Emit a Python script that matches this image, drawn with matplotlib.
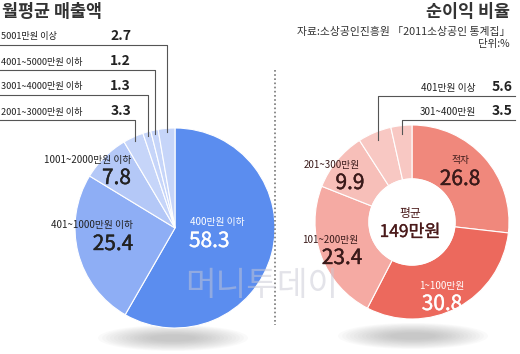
import matplotlib
matplotlib.use("Agg")
import numpy as np
import matplotlib.pyplot as plt
import matplotlib.patheffects as pe
from matplotlib.patches import Ellipse, Circle

plt.rcParams['font.family'] = ['Noto Sans CJK KR', 'DejaVu Sans']

# 월평균 매출액 (%)
sales_labels = ["400만원 이하", "401~1000만원 이하", "1001~2000만원 이하",
                "2001~3000만원 이하", "3001~4000만원 이하", "4001~5000만원 이하",
                "5001만원 이상"]
sales_values = [58.3, 25.4, 7.8, 3.3, 1.3, 1.2, 2.7]
sales_colors = ["#5b8def", "#8eaef5", "#b4c8f7", "#c6d5f9", "#c6d5f9", "#c6d5f9", "#c6d5f9"]

# 순이익 비율 (%)
profit_labels = ["적자", "1~100만원", "101~200만원", "201~300만원", "401만원 이상", "301~400만원"]
profit_values = [26.8, 30.8, 23.4, 9.9, 5.6, 3.5]
profit_colors = ["#f0887c", "#ec695d", "#f5aaa3", "#f7bfb9", "#f8c8c3", "#f8c8c3"]

W, H = 520, 354
fig = plt.figure(figsize=(W / 100, H / 100), dpi=100)
ax = fig.add_axes([0, 0, 1, 1])

def Y(py):
    # 위에서부터의 픽셀 좌표 -> 데이터 좌표
    return H - py

def mid_point(values, i, cx, cy, r):
    # 시계방향, 12시에서 시작
    start = sum(values[:i]) / sum(values) * 360
    mid = start + values[i] / sum(values) * 180
    a = np.deg2rad(90 - mid)
    return cx + r * np.cos(a), cy + r * np.sin(a)

# 그림자 (흐릿하게)
for cx, cy in [(173, 338), (413, 336)]:
    for k in range(14):
        ax.add_patch(Ellipse((cx, Y(cy)), 150 - k * 8, 26 - k * 1.5,
                             color="#8a8a8a", alpha=0.04, lw=0, zorder=1))

# 왼쪽 파이
lc, lr = (175, Y(228)), 100
ax.pie(sales_values, colors=sales_colors, startangle=90, counterclock=False,
       center=lc, radius=lr, frame=True,
       wedgeprops=dict(edgecolor="white", linewidth=0.8))

# 오른쪽 도넛
rc, rr = (412, Y(222)), 97
ax.pie(profit_values, colors=profit_colors, startangle=90, counterclock=False,
       center=rc, radius=rr, frame=True,
       wedgeprops=dict(edgecolor="white", linewidth=0.8, width=rr - 43))
ax.add_patch(Circle(rc, 43, color="white", zorder=3))

ax.set_xlim(0, W)
ax.set_ylim(0, H)
ax.set_aspect('auto')
ax.axis('off')

dark = "#222222"

def big(x, py, s, color, ha):
    # 중간 굵기 숫자: 보통 글꼴 + 얇은 테두리
    ax.text(x, Y(py), s, fontsize=15, color=color, ha=ha, va='center', zorder=5,
            path_effects=[pe.withStroke(linewidth=0.3, foreground=color)])

# 제목
ax.text(2, Y(12), "월평균 매출액", fontsize=12.5, fontweight='bold', color="#333333", va='center')
ax.text(510, Y(12), "순이익 비율", fontsize=12.5, fontweight='bold', color="#333333", va='center', ha='right')
ax.text(510, Y(32), "자료:소상공인진흥원 「2011소상공인 통계집」", fontsize=7.8, color="#333333",
        va='center', ha='right')
ax.text(510, Y(44), "단위:%", fontsize=7.5, color="#333333", va='center', ha='right')

# 왼쪽 작은 항목 지시선
rows = [(6, 37), (5, 62), (4, 87), (3, 112)]
for i, py in rows:
    ax.text(1, Y(py), sales_labels[i], fontsize=6.6, color=dark, va='center')
    ax.text(131, Y(py - 1), f"{sales_values[i]}", fontsize=10, fontweight='bold', color=dark,
            va='center', ha='right')
    x, y = mid_point(sales_values, i, lc[0], lc[1], lr - 4)
    ax.plot([0, x, x], [Y(py + 8), Y(py + 8), y], color="#555555", lw=0.8, zorder=4)

# 왼쪽 내부 라벨
ax.text(131, Y(160), sales_labels[2], fontsize=7, color=dark, ha='right', va='center', zorder=5)
big(131, 178, "7.8", dark, 'right')
ax.text(133, Y(225), sales_labels[1], fontsize=7, color=dark, ha='right', va='center', zorder=5)
big(133, 244, "25.4", dark, 'right')
ax.text(190, Y(222), sales_labels[0], fontsize=7, color="white", ha='left', va='center', zorder=5)
big(189, 241, "58.3", "white", 'left')

# 오른쪽 작은 항목 지시선
rows_r = [(4, 88), (5, 112)]
for i, py in rows_r:
    ax.text(476, Y(py), profit_labels[i], fontsize=7, color=dark, va='center', ha='right')
    ax.text(513, Y(py - 1), f"{profit_values[i]}", fontsize=10, fontweight='bold', color=dark,
            va='center', ha='right')
    x, y = mid_point(profit_values, i, rc[0], rc[1], rr - 8)
    ax.plot([515, x, x], [Y(py + 8), Y(py + 8), y], color="#555555", lw=0.8, zorder=4)

# 오른쪽 내부 라벨
red_dark = "#3a1a1a"
ax.text(460, Y(160), profit_labels[0], fontsize=7, color=red_dark, ha='center', va='center', zorder=5)
big(460, 179, "26.8", red_dark, 'center')
ax.text(442, Y(286), profit_labels[1], fontsize=7, color="white", ha='center', va='center', zorder=5)
big(442, 304, "30.8", "white", 'center')
ax.text(330, Y(240), profit_labels[2], fontsize=7, color=red_dark, ha='center', va='center', zorder=5)
big(342, 258, "23.4", red_dark, 'center')
ax.text(332, Y(165), profit_labels[3], fontsize=7, color=red_dark, ha='center', va='center', zorder=5)
big(350, 183, "9.9", red_dark, 'center')
ax.text(410, Y(214), "평균", fontsize=8.5, color="#4a1a1a", ha='center', va='center', zorder=5)
ax.text(410, Y(232), "149만원", fontsize=12.5, color="#4a1a1a", ha='center', va='center', zorder=5,
        path_effects=[pe.withStroke(linewidth=0.2, foreground="#4a1a1a")])

# 구분 점선
ax.plot([275, 275], [Y(70), Y(325)], color="#777777", lw=1.2, ls=(0, (1, 1.5)), zorder=2)

# 워터마크
ax.text(262, Y(285), "머니투데이", fontsize=24, color="#c8c8d4", alpha=0.5,
        ha='center', va='center', zorder=6)

fig.savefig("out.png", dpi=100)
